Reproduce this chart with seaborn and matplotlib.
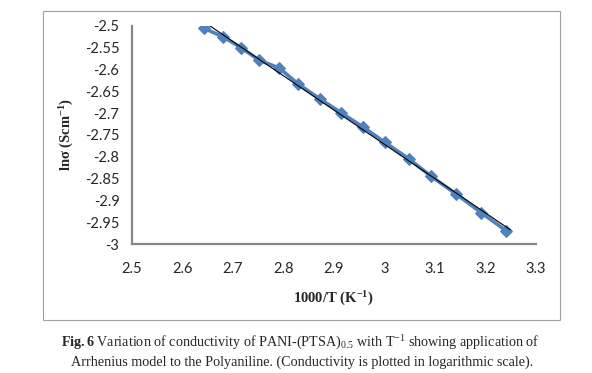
import numpy as np
import pandas as pd
import matplotlib
matplotlib.use("Agg")
import matplotlib.pyplot as plt
import seaborn as sns
from matplotlib.patches import Rectangle

# data (1000/T vs ln sigma)
inv_T = [2.643, 2.680, 2.716, 2.752, 2.792, 2.830, 2.873, 2.914,
         2.958, 3.001, 3.049, 3.093, 3.143, 3.192, 3.242]
ln_sigma = [-2.506, -2.525, -2.550, -2.579, -2.597, -2.634, -2.668, -2.699,
            -2.732, -2.767, -2.805, -2.845, -2.886, -2.928, -2.970]
x_ticks = [2.5, 2.6, 2.7, 2.8, 2.9, 3.0, 3.1, 3.2, 3.3]
x_tick_labels = ["2.5", "2.6", "2.7", "2.8", "2.9", "3", "3.1", "3.2", "3.3"]
y_ticks = [-3.0, -2.95, -2.9, -2.85, -2.8, -2.75, -2.7, -2.65, -2.6, -2.55, -2.5]
y_tick_labels = ["-3", "-2.95", "-2.9", "-2.85", "-2.8", "-2.75", "-2.7",
                 "-2.65", "-2.6", "-2.55", "-2.5"]

df = pd.DataFrame({"invT": inv_T, "lns": ln_sigma})

# linear trendline (Arrhenius fit)
slope, icept = np.polyfit(df["invT"], df["lns"], 1)
fit = pd.DataFrame({"invT": [df["invT"].min(), df["invT"].max() + 0.008]})
fit["lns"] = slope * fit["invT"] + icept

sns.set_style("white")
plt.rcParams["font.family"] = ["Lato", "DejaVu Sans"]
plt.rcParams["mathtext.fontset"] = "custom"
plt.rcParams["mathtext.rm"] = "Liberation Serif"
plt.rcParams["mathtext.it"] = "Liberation Serif:italic"
plt.rcParams["mathtext.bf"] = "Liberation Serif:bold"

fig = plt.figure(figsize=(5.92, 3.73), dpi=100)
fig.patches.append(Rectangle((0.0726, 0.142), 0.873, 0.828, transform=fig.transFigure,
                             fill=False, edgecolor="#a0a0a0", linewidth=0.8))
ax = fig.add_axes([0.2228, 0.3458, 0.682, 0.5853])

sns.lineplot(data=df, x="invT", y="lns", ax=ax, color="#4F81BD", linewidth=2.6,
             marker="D", markersize=6.5, markeredgecolor="#4F81BD", zorder=2)
sns.lineplot(data=fit, x="invT", y="lns", ax=ax, color="black", linewidth=0.8, zorder=3)

ax.set_xlim(2.5, 3.3)
ax.set_ylim(-3.0, -2.5)
ax.set_xticks(x_ticks)
ax.set_xticklabels(x_tick_labels)
ax.set_yticks(y_ticks)
ax.set_yticklabels(y_tick_labels)
ax.tick_params(axis="both", direction="out", length=4, width=0.8, color="#868686",
               labelsize=10.5, pad=5)
ax.tick_params(axis="x", pad=9)
for s in ["top", "right"]:
    ax.spines[s].set_visible(False)
for s in ["left", "bottom"]:
    ax.spines[s].set_color("#868686")
    ax.spines[s].set_linewidth(1.6)

ax.set_xlabel("1000/T (K$^{\\mathbf{-1}}$)", family="Liberation Serif", fontweight="bold",
              fontsize=10.5, labelpad=10)
ax.set_ylabel("ln\u03c3 (Scm$^{\\mathbf{-1}}$)", family="Liberation Serif", fontweight="bold",
              fontsize=10.5, labelpad=6)

# caption under the chart box
fig.text(0.508, 0.080, "$\\mathbf{Fig{.}6}$ Variation of conductivity of PANI-(PTSA)$_{0.5}$ with T$^{-1}$ showing application of",
         ha="center", va="center", family="Liberation Serif", fontsize=10.2)
fig.text(0.510, 0.030, "Arrhenius model to the Polyaniline. (Conductivity is plotted in logarithmic scale).",
         ha="center", va="center", family="Liberation Serif", fontsize=10.2)

fig.savefig("out.png", dpi=100)
